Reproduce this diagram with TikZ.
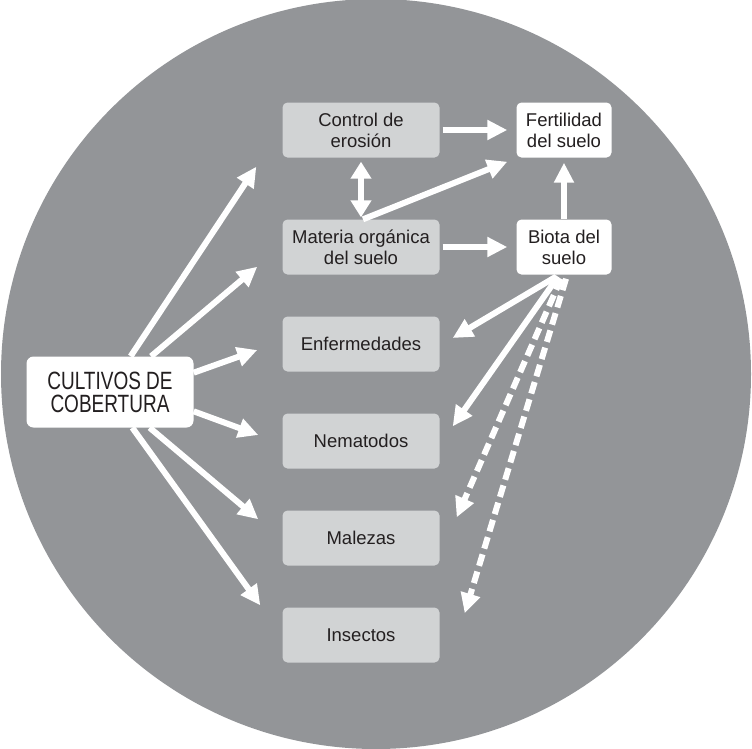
\documentclass[tikz,border=0pt]{standalone}
\usepackage{fontspec}
\setmainfont{Liberation Sans}
\newfontfamily\condfont[FakeStretch=0.76]{Liberation Sans}
\usetikzlibrary{arrows.meta,calc}
\definecolor{disc}{HTML}{939598}
\definecolor{boxg}{HTML}{D1D3D4}
\definecolor{ink}{HTML}{231F20}
\tikzset{
  lbox/.style={fill=boxg, rounded corners=5pt, minimum width=157pt, minimum height=55pt,
    align=center, text=ink, inner sep=0pt, font=\fontsize{18.5}{21}\selectfont},
  wbox/.style={lbox, fill=white, minimum width=95pt},
  cbox/.style={fill=white, rounded corners=7pt, minimum width=167pt, minimum height=71pt,
    align=center, text=ink, inner sep=0pt, font=\condfont\fontsize{25}{23}\selectfont},
  arr/.style={draw=white, line width=6pt, -{Triangle[length=20pt,width=19pt]}},
  darr/.style={arr, dash pattern=on 12pt off 6pt},
  dblarr/.style={draw=white, line width=6pt, {Triangle[length=17pt,width=20pt]}-{Triangle[length=17pt,width=20pt]}}
}
\begin{document}
\begin{tikzpicture}[x=1pt,y=-1pt]
\useasboundingbox (0,0) rectangle (752,748);
\fill[disc] (376,374) circle (375pt);

\node[lbox] (ctrl) at (361,130) {Control de\\erosión};
\node[lbox] (mat)  at (361,247) {Materia orgánica\\del suelo};
\node[lbox] (enf)  at (361,344) {Enfermedades};
\node[lbox] (nem)  at (361,441) {Nematodos};
\node[lbox] (mal)  at (361,538) {Malezas};
\node[lbox] (ins)  at (361,635) {Insectos};
\node[wbox] (fert) at (564,130) {Fertilidad\\del suelo};
\node[wbox] (bio)  at (564,247) {Biota del\\suelo};
\node[cbox] (cc)   at (110,392) {CULTIVOS DE\\COBERTURA};

% from cover crops
\draw[arr] (cc.60)  -- ($(ctrl.south west)+(-26,9)$);
\draw[arr] (cc.41)  -- ($(mat.south west)+(-25,-8)$);
\draw[arr] (cc.13)  -- ($(enf.west)+(-25,6)$);
\draw[arr] (cc.-13) -- ($(nem.west)+(-24,-6)$);
\draw[arr] (cc.-42) -- ($(mal.north west)+(-24,9)$);
\draw[arr] (cc.-58) -- ($(ins.north west)+(-22,-2)$);

% upper part
\draw[arr] ($(ctrl.east)+(3,0)$) -- ($(fert.west)+(-9,0)$);
\draw[arr] ($(mat.east)+(3,0)$) -- ($(bio.west)+(-9,0)$);
\draw[dblarr] ($(ctrl.south)+(0,4)$) -- ($(mat.north)+(0,-2)$);
\draw[arr] ($(mat.north)+(2,0)$) -- ($(fert.south west)+(-9,4)$);
\draw[arr] (bio.north) -- ($(fert.south)+(0,5)$);

% from soil biota
\draw[arr]  ($(bio.south)+(-8,2)$) -- ($(enf.east)+(13,-6)$);
\draw[arr]  ($(bio.south)+(-6,2)$) -- ($(nem.north east)+(13,13)$);
\draw[darr] ($(bio.south)+(-3,4)$) -- ($(mal.north east)+(17,7)$);
\draw[darr] ($(bio.south)+(2,4)$)  -- ($(ins.north east)+(25,6)$);
\end{tikzpicture}
\end{document}
